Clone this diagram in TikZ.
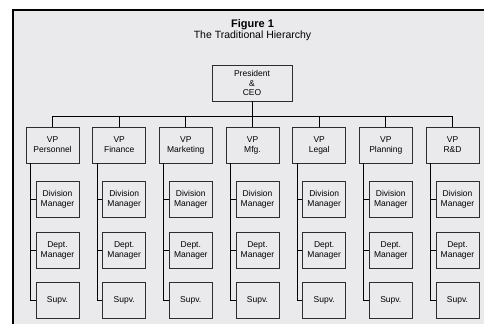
\documentclass[tikz,border=0pt]{standalone}
\usepackage{fontspec}
\setmainfont{Liberation Sans}
\definecolor{paper}{RGB}{234,234,236}
\definecolor{boxline}{RGB}{45,45,45}
\tikzset{
  post/.style={draw=boxline, line width=0.9pt, fill=paper, inner sep=0pt,
    minimum height=36pt, align=center, font=\fontsize{8.5}{10}\selectfont},
  vpbox/.style={post, minimum width=53pt},
  subbox/.style={post, minimum width=43pt},
  link/.style={draw=black, line width=0.8pt}
}
\begin{document}
\begin{tikzpicture}[x=1pt, y=-1pt]

    % Frame
    \useasboundingbox (0,0) rectangle (485,324);
    \fill[paper] (13,10) rectangle (484,324);
    \draw[line width=2.5pt] (12.75,324) -- (12.75,10) -- (484,10);

    % Titles
    \node[font=\bfseries\fontsize{11}{13}\selectfont] (fig) at (252.5,25) {Figure 1};
    \node[font=\fontsize{10.5}{12}\selectfont] (title) at (252.5,35.5) {The Traditional Hierarchy};

    % Nodes
    \node[post, minimum width=80pt, font=\fontsize{8.5}{9.5}\selectfont] (ceo) at (252,83) {President\\\&\\CEO};
    \coordinate (busL) at (52.5,116);
    \coordinate (busR) at (452.5,116);

    \node[vpbox] (vp1) at (52.5,145) {VP\\Personnel};
    \node[vpbox] (vp2) at (119.2,145) {VP\\Finance};
    \node[vpbox] (vp3) at (185.8,145) {VP\\Marketing};
    \node[vpbox] (vp4) at (252.5,145) {VP\\Mfg.};
    \node[vpbox] (vp5) at (319.2,145) {VP\\Legal};
    \node[vpbox] (vp6) at (385.8,145) {VP\\Planning};
    \node[vpbox] (vp7) at (452.5,145) {VP\\R\&D};

    \node[subbox] (div1) at (57.5,199) {Division\\Manager};
    \node[subbox] (div2) at (124.2,199) {Division\\Manager};
    \node[subbox] (div3) at (190.8,199) {Division\\Manager};
    \node[subbox] (div4) at (257.5,199) {Division\\Manager};
    \node[subbox] (div5) at (324.2,199) {Division\\Manager};
    \node[subbox] (div6) at (390.8,199) {Division\\Manager};
    \node[subbox] (div7) at (457.5,199) {Division\\Manager};

    \node[subbox] (dept1) at (57.5,250) {Dept.\\Manager};
    \node[subbox] (dept2) at (124.2,250) {Dept.\\Manager};
    \node[subbox] (dept3) at (190.8,250) {Dept.\\Manager};
    \node[subbox] (dept4) at (257.5,250) {Dept.\\Manager};
    \node[subbox] (dept5) at (324.2,250) {Dept.\\Manager};
    \node[subbox] (dept6) at (390.8,250) {Dept.\\Manager};
    \node[subbox] (dept7) at (457.5,250) {Dept.\\Manager};

    \node[subbox] (supv1) at (57.5,300.5) {Supv.};
    \node[subbox] (supv2) at (124.2,300.5) {Supv.};
    \node[subbox] (supv3) at (190.8,300.5) {Supv.};
    \node[subbox] (supv4) at (257.5,300.5) {Supv.};
    \node[subbox] (supv5) at (324.2,300.5) {Supv.};
    \node[subbox] (supv6) at (390.8,300.5) {Supv.};
    \node[subbox] (supv7) at (457.5,300.5) {Supv.};

    % Edges
    \draw[link] (ceo) -- (ceo |- busL);
    \draw[link] (busL) -- (busR);
    \draw[link] (vp1) -- (vp1 |- busL);
    \draw[link] (vp2) -- (vp2 |- busL);
    \draw[link] (vp3) -- (vp3 |- busL);
    \draw[link] (vp4) -- (vp4 |- busL);
    \draw[link] (vp5) -- (vp5 |- busL);
    \draw[link] (vp6) -- (vp6 |- busL);
    \draw[link] (vp7) -- (vp7 |- busL);

    \draw[link] ([xshift=5pt]vp1.south west) |- (supv1.west) (div1.west) -- +(-5pt,0) (dept1.west) -- +(-5pt,0);
    \draw[link] ([xshift=5pt]vp2.south west) |- (supv2.west) (div2.west) -- +(-5pt,0) (dept2.west) -- +(-5pt,0);
    \draw[link] ([xshift=5pt]vp3.south west) |- (supv3.west) (div3.west) -- +(-5pt,0) (dept3.west) -- +(-5pt,0);
    \draw[link] ([xshift=5pt]vp4.south west) |- (supv4.west) (div4.west) -- +(-5pt,0) (dept4.west) -- +(-5pt,0);
    \draw[link] ([xshift=5pt]vp5.south west) |- (supv5.west) (div5.west) -- +(-5pt,0) (dept5.west) -- +(-5pt,0);
    \draw[link] ([xshift=5pt]vp6.south west) |- (supv6.west) (div6.west) -- +(-5pt,0) (dept6.west) -- +(-5pt,0);
    \draw[link] ([xshift=5pt]vp7.south west) |- (supv7.west) (div7.west) -- +(-5pt,0) (dept7.west) -- +(-5pt,0);
\end{tikzpicture}
\end{document}
